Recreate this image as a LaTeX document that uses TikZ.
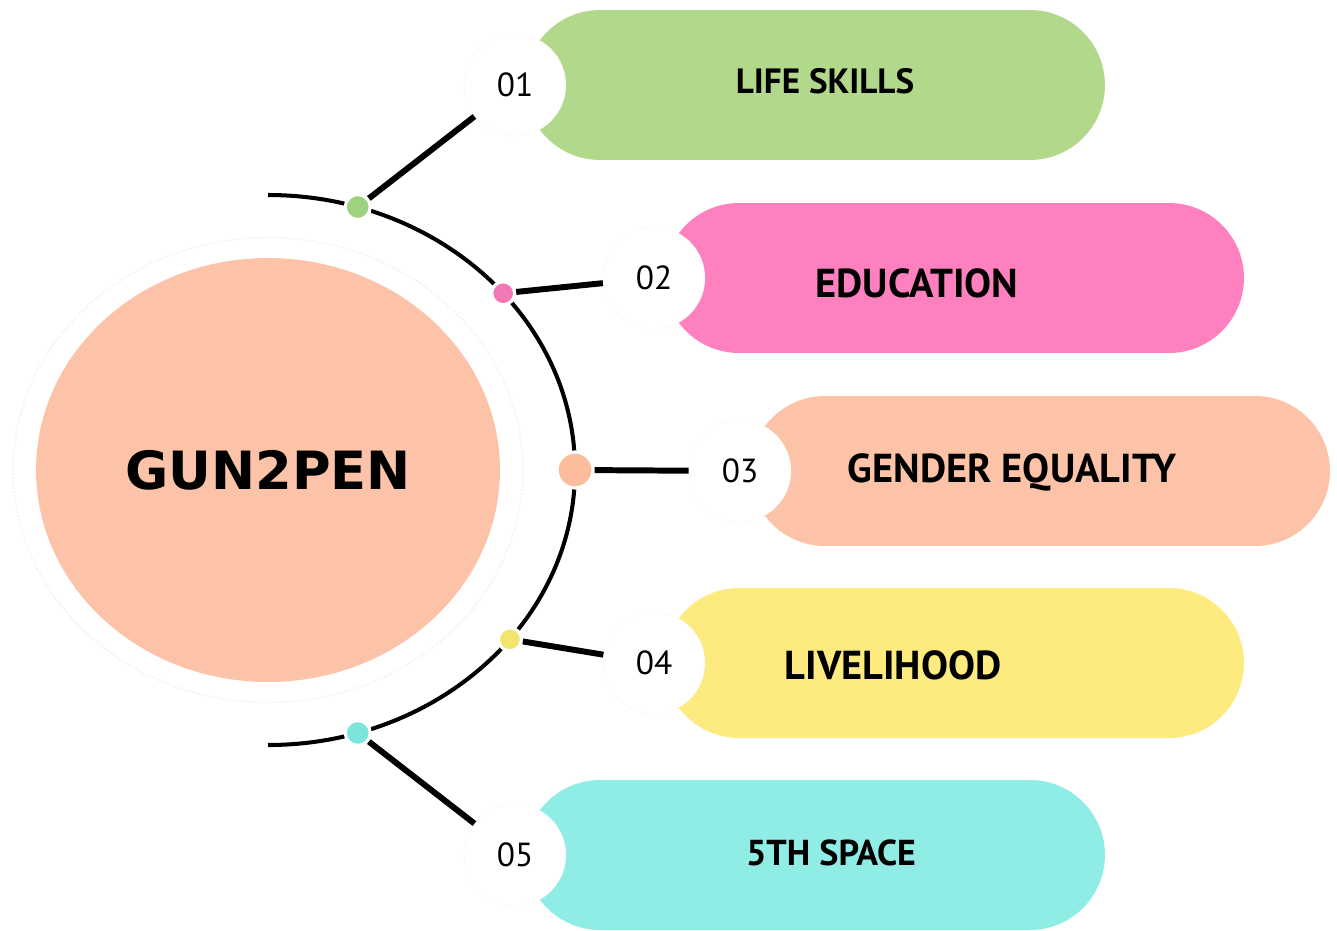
\documentclass[tikz,border=0pt]{standalone}
\usepackage{fontspec}
\setmainfont{PT Sans}
\newfontfamily\hubfont{DejaVu Sans}
\usetikzlibrary{shapes.geometric,calc}

\definecolor{lifegreen}{HTML}{B2D98B}
\definecolor{edupink}{HTML}{FF80BF}
\definecolor{genderpeach}{HTML}{FCC3A8}
\definecolor{liveyellow}{HTML}{FEEB80}
\definecolor{spacecyan}{HTML}{90EDE5}
\definecolor{greendot}{HTML}{9FD27F}
\definecolor{pinkdot}{HTML}{F378B6}
\definecolor{peachdot}{HTML}{FBBD9C}
\definecolor{yellowdot}{HTML}{F3E46C}
\definecolor{cyandot}{HTML}{7CE4DA}

\tikzset{
	hub/.style={ellipse, fill=genderpeach, minimum width=9.28cm, minimum height=8.48cm, font=\hubfont\bfseries\fontsize{30}{30}\selectfont},
	rim/.style={line width=2.3pt},
	pill/.style={rounded corners=1.5cm, minimum width=11.6cm, minimum height=3cm},
	numdisc/.style={circle, fill=white, draw=black!7, densely dotted, minimum size=2.04cm, font=\fontsize{19}{19}\selectfont},
	spot/.style={circle, draw=white, line width=1.8pt, inner sep=0pt},
	stem/.style={line width=3.4pt}
}

\begin{document}
\begin{tikzpicture}[x=0.02cm, y=-0.02cm]
	\useasboundingbox (0,0) rectangle (1337,930);
	\node[ellipse, draw=black!5, densely dotted, line width=1pt, minimum width=10.2cm, minimum height=9.3cm] (halo) at (268,470) {};
	\node[hub] (hub) at (268,470) {GUN2PEN};
	\coordinate (rimtop) at (268,195);
	\draw[rim] (rimtop) arc[start angle=-90, end angle=90, x radius=307, y radius=275];
	\foreach \i/\ang/\px/\py/\tx/\ty/\fs/\sz/\col/\dcol/\txt in {
			1/-73/815/85/825/81/20/0.5/lifegreen/greendot/LIFE SKILLS,
			2/-40/954/278/917/283/23/0.46/edupink/pinkdot/EDUCATION,
			3/0/1040/471/1012/472/23/0.72/genderpeach/peachdot/GENDER EQUALITY,
			4/38/954/663/893/665/23/0.46/liveyellow/yellowdot/LIVELIHOOD,
			5/73/815/855/831/853/20.5/0.5/spacecyan/cyandot/5TH SPACE} {
			\node[pill, fill=\col] (p\i) at (\px,\py) {};
			\node[font=\bfseries\fontsize{\fs}{\fs}\selectfont] (t\i) at (\tx,\ty) {\txt};
			\node[numdisc] (n\i) at (\px-300,\py) {0\i};
			\node[spot, fill=\dcol, minimum size=\sz cm] (d\i) at ($(hub.center)+(\ang:307 and 275)$) {};
			\draw[stem] (d\i) -- (n\i);
		}
\end{tikzpicture}
\end{document}
